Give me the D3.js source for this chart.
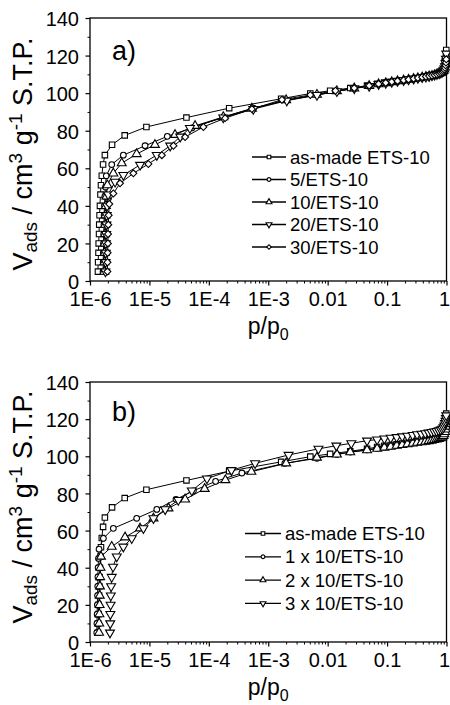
<!DOCTYPE html>
<html>
<head>
<meta charset="utf-8">
<script src="https://cdn.jsdelivr.net/npm/d3@7"></script>
<style>
  body { margin: 0; background: #fff; }
  svg { display: block; }
  text { font-family: "Liberation Sans", Arial, Helvetica, sans-serif; fill: #000; white-space: pre; }
</style>
</head>
<body>
<svg id="chart" width="450" height="705"></svg>
<script>
// ---- axis ticks ----
const xTickValues = [1e-6, 1e-5, 1e-4, 1e-3, 0.01, 0.1, 1];
const xTickLabels = ["1E-6", "1E-5", "1E-4", "1E-3", "0.01", "0.1", "1"];
const yTickValues = [0, 20, 40, 60, 80, 100, 120, 140];
const yMinorValues = [10, 30, 50, 70, 90, 110, 130];

// ---- N2 isotherms, [p/p0, Vads] ----
const asMade = [
  [1.36e-6, 5], [1.37e-6, 10], [1.39e-6, 15], [1.40e-6, 20], [1.42e-6, 25], [1.43e-6, 30],
  [1.45e-6, 35], [1.47e-6, 40], [1.50e-6, 46], [1.53e-6, 51], [1.58e-6, 56], [1.66e-6, 62],
  [1.78e-6, 67], [2.35e-6, 72.5], [3.84e-6, 77.5], [8.9e-6, 82], [4.2e-5, 87], [2.2e-4, 92],
  [1.65e-3, 97], [5.1e-3, 99.8], [0.011, 101.3], [0.024, 102.7], [0.046, 104], [0.068, 105],
  [0.09, 105.6], [0.115, 106.1], [0.145, 106.5], [0.18, 106.9], [0.22, 107.3], [0.27, 107.7],
  [0.32, 108.1], [0.38, 108.5], [0.44, 108.8], [0.5, 109.1], [0.56, 109.4], [0.62, 109.7],
  [0.68, 110], [0.74, 110.4], [0.8, 110.8], [0.85, 111.3], [0.89, 112], [0.92, 113],
  [0.945, 114.5], [0.965, 116.5], [0.98, 119], [0.99, 123]
];
const ets5 = [
  [1.66e-6, 5], [1.67e-6, 10], [1.68e-6, 15], [1.69e-6, 20], [1.70e-6, 25], [1.72e-6, 30],
  [1.73e-6, 35], [1.75e-6, 40], [1.78e-6, 45], [1.82e-6, 50], [1.88e-6, 56], [2.32e-6, 62],
  [3.64e-6, 67], [8.45e-6, 72], [2.0e-5, 77], [5.2e-5, 81.5], [1.77e-4, 87.3], [5.6e-4, 92],
  [2.05e-3, 96.2], [6.6e-3, 99], [0.0143, 101], [0.028, 102.5], [0.05, 103.8], [0.072, 104.7],
  [0.095, 105.3], [0.12, 105.8], [0.15, 106.3], [0.19, 106.7], [0.23, 107.1], [0.28, 107.5],
  [0.33, 107.9], [0.39, 108.3], [0.45, 108.6], [0.51, 108.9], [0.57, 109.2], [0.63, 109.5],
  [0.69, 109.9], [0.75, 110.3], [0.8, 110.7], [0.85, 111.2], [0.89, 111.8], [0.92, 112.6],
  [0.945, 113.8], [0.965, 115.5], [0.98, 117.5], [0.99, 120.5]
];
const ets10 = [
  [1.74e-6, 5], [1.75e-6, 10], [1.76e-6, 15], [1.77e-6, 20], [1.79e-6, 25], [1.80e-6, 30],
  [1.82e-6, 35], [1.85e-6, 40], [1.89e-6, 45], [1.96e-6, 51], [2.47e-6, 57.3], [3.42e-6, 62.7],
  [6.1e-6, 67.6], [1.24e-5, 72.5], [2.7e-5, 77.8], [5.87e-5, 82.6], [1.75e-4, 87.3], [5.3e-4, 91.8],
  [2.0e-3, 96.3], [6.6e-3, 99.2], [0.0143, 101.1], [0.028, 102.6], [0.05, 103.9], [0.072, 104.8],
  [0.095, 105.4], [0.12, 105.9], [0.15, 106.4], [0.19, 106.8], [0.23, 107.2], [0.28, 107.6],
  [0.33, 108], [0.39, 108.4], [0.45, 108.7], [0.51, 109], [0.57, 109.3], [0.63, 109.6],
  [0.69, 110], [0.75, 110.4], [0.8, 110.8], [0.85, 111.3], [0.89, 111.9], [0.92, 112.7],
  [0.945, 113.7], [0.965, 115.2], [0.98, 117], [0.99, 119.5]
];
const ets20 = [
  [1.82e-6, 5], [1.83e-6, 10], [1.84e-6, 15], [1.85e-6, 20], [1.87e-6, 25], [1.89e-6, 30],
  [1.91e-6, 35], [1.94e-6, 40], [2.02e-6, 46], [2.64e-6, 52.8], [3.64e-6, 56.4], [6.96e-6, 61.8],
  [1.33e-5, 67], [2.24e-5, 72], [3.3e-5, 76.8], [4.8e-5, 81.4], [1.75e-4, 87], [5.6e-4, 91.5],
  [2.05e-3, 96], [6.6e-3, 99], [0.0143, 101], [0.028, 102.5], [0.05, 103.8], [0.072, 104.8],
  [0.095, 105.4], [0.12, 105.9], [0.15, 106.4], [0.19, 106.8], [0.23, 107.2], [0.28, 107.6],
  [0.33, 108], [0.39, 108.4], [0.45, 108.7], [0.51, 109], [0.57, 109.4], [0.63, 109.7],
  [0.69, 110.1], [0.75, 110.5], [0.8, 110.9], [0.85, 111.4], [0.89, 112.1], [0.92, 113],
  [0.945, 114.3], [0.965, 116], [0.98, 118.3], [0.99, 121]
];
const ets30 = [
  [1.96e-6, 5], [1.97e-6, 10], [1.98e-6, 15], [2.0e-6, 20], [2.01e-6, 25], [2.03e-6, 30],
  [2.06e-6, 35], [2.11e-6, 41], [2.47e-6, 46.6], [3.2e-6, 52], [5.37e-6, 57.3], [9.6e-6, 62.3],
  [1.62e-5, 67], [2.54e-5, 72], [3.99e-5, 76.6], [8.09e-5, 82], [1.88e-4, 86.7], [5.3e-4, 91.5],
  [1.7e-3, 96.5], [5.1e-3, 99], [0.0135, 101.3], [0.028, 102.7], [0.05, 104], [0.072, 104.9],
  [0.095, 105.5], [0.12, 106], [0.15, 106.5], [0.19, 106.9], [0.23, 107.3], [0.28, 107.7],
  [0.33, 108.1], [0.39, 108.5], [0.45, 108.8], [0.51, 109.1], [0.57, 109.4], [0.63, 109.7],
  [0.69, 110], [0.75, 110.4], [0.8, 110.8], [0.85, 111.2], [0.89, 111.8], [0.92, 112.5],
  [0.945, 113.5], [0.965, 114.8], [0.98, 116.3], [0.99, 118]
];
const cycle1 = [
  [1.30e-6, 5], [1.31e-6, 10], [1.32e-6, 15], [1.33e-6, 20], [1.34e-6, 25], [1.35e-6, 30],
  [1.36e-6, 35], [1.37e-6, 40], [1.39e-6, 45], [1.42e-6, 50], [1.68e-6, 55.8], [2.47e-6, 61.2],
  [6.1e-6, 66.6], [1.33e-5, 71.4], [2.8e-5, 76.8], [5.5e-5, 81.4], [1.3e-4, 86.5], [3.6e-4, 91],
  [1.9e-3, 96.2], [6.6e-3, 98.9], [0.0143, 101], [0.024, 102.3], [0.046, 103.5], [0.068, 104.3],
  [0.09, 104.9], [0.115, 105.4], [0.145, 105.9], [0.18, 106.3], [0.22, 106.7], [0.27, 107.1],
  [0.32, 107.5], [0.38, 107.8], [0.44, 108.1], [0.5, 108.4], [0.56, 108.7], [0.62, 109],
  [0.68, 109.3], [0.74, 109.6], [0.8, 110], [0.85, 110.5], [0.89, 111.2], [0.92, 112.3],
  [0.945, 113.7], [0.965, 115.5], [0.98, 117.5], [0.99, 119.5]
];
const cycle2 = [
  [1.42e-6, 5], [1.43e-6, 10], [1.44e-6, 15], [1.45e-6, 20], [1.46e-6, 25], [1.47e-6, 30],
  [1.48e-6, 35], [1.50e-6, 40], [1.53e-6, 46], [2.32e-6, 51.3], [3.89e-6, 56.4], [6.96e-6, 61.2],
  [1.17e-5, 66.6], [2.09e-5, 72], [3.99e-5, 76.8], [8.5e-5, 82.5], [1.9e-4, 87.2], [5.2e-4, 91.7],
  [2.0e-3, 96.2], [6.6e-3, 99.3], [0.0143, 101], [0.024, 102.2], [0.046, 103.3], [0.068, 104.1],
  [0.09, 104.7], [0.115, 105.2], [0.145, 105.7], [0.18, 106.1], [0.22, 106.5], [0.27, 106.9],
  [0.32, 107.3], [0.38, 107.6], [0.44, 107.9], [0.5, 108.2], [0.56, 108.5], [0.62, 108.8],
  [0.68, 109.1], [0.74, 109.4], [0.8, 109.8], [0.85, 110.3], [0.89, 111], [0.92, 111.9],
  [0.945, 113.1], [0.965, 114.5], [0.98, 116], [0.99, 117.5]
];
const cycle3 = [
  [2.17e-6, 5], [2.19e-6, 10], [2.20e-6, 15], [2.22e-6, 20], [2.24e-6, 25], [2.27e-6, 30],
  [2.32e-6, 35], [2.44e-6, 40.5], [2.82e-6, 46], [3.64e-6, 51.3], [5.04e-6, 55.8], [7.92e-6, 61.2],
  [1.17e-5, 66.6], [1.84e-5, 71.4], [3.06e-5, 76.4], [5.17e-5, 81.5], [9.3e-5, 88], [2.4e-4, 92.5],
  [6.0e-4, 96.2], [2.2e-3, 100.7], [7.0e-3, 104], [0.014, 105.7], [0.025, 107], [0.046, 108.4],
  [0.068, 109], [0.09, 109.5], [0.115, 109.9], [0.145, 110.3], [0.18, 110.7], [0.22, 111],
  [0.27, 111.4], [0.32, 111.8], [0.38, 112.1], [0.44, 112.4], [0.5, 112.7], [0.56, 113],
  [0.62, 113.3], [0.68, 113.6], [0.74, 113.9], [0.8, 114.3], [0.85, 114.8], [0.89, 115.5],
  [0.92, 116.5], [0.945, 117.8], [0.965, 119], [0.98, 120.5], [0.99, 122]
];

const seriesA = [
  { name: "as-made ETS-10", marker: "square", data: asMade },
  { name: "5/ETS-10", marker: "circle", data: ets5 },
  { name: "10/ETS-10", marker: "up", data: ets10 },
  { name: "20/ETS-10", marker: "down", data: ets20 },
  { name: "30/ETS-10", marker: "diamond", data: ets30 }
];
const seriesB = [
  { name: "as-made ETS-10", marker: "square", data: asMade },
  { name: "1 x 10/ETS-10", marker: "circle", data: cycle1 },
  { name: "2 x 10/ETS-10", marker: "up", data: cycle2 },
  { name: "3 x 10/ETS-10", marker: "down", data: cycle3 }
];

const panels = [
  { label: "a)", series: seriesA, top: 18, bottom: 281, labelY: 60, titleY: 154,
    legendX: 252, legendTextX: 290, legendY: 157, legendStep: 22.5 },
  { label: "b)", series: seriesB, top: 382, bottom: 642, labelY: 421, titleY: 507,
    legendX: 245, legendTextX: 285, legendY: 533.5, legendStep: 23.3 }
];

const svg = d3.select("#chart");
const left = 90, right = 446.5;

// minor log ticks 2..9 within each decade
const xMinor = [];
for (let e = -6; e < 0; e++) for (let k = 2; k <= 9; k++) xMinor.push(k * Math.pow(10, e));

function markerPath(kind, size) {
  switch (kind) {
    case "square": return d3.symbol(d3.symbolSquare, size)();
    case "circle": return d3.symbol(d3.symbolCircle, size * 0.85)();
    case "up": return d3.symbol(d3.symbolTriangle, size * 1.15)();
    case "down": return d3.symbol(d3.symbolTriangle, size * 1.15)();
    case "diamond": return d3.symbol(d3.symbolSquare, size * 0.8)();
  }
}
function markerRotation(kind) {
  if (kind === "down") return 180;
  if (kind === "diamond") return 45;
  return 0;
}

panels.forEach(p => {
  const x = d3.scaleLog().domain([1e-6, 1]).range([left, right]);
  const y = d3.scaleLinear().domain([0, 140]).range([p.bottom, p.top]);
  const g = svg.append("g");

  // x axis: minor then major ticks
  g.append("g").attr("transform", `translate(0,${p.bottom})`)
    .call(d3.axisBottom(x).tickValues(xMinor).tickSize(2.5).tickFormat(""))
    .call(a => a.select(".domain").remove())
    .call(a => a.selectAll("line").attr("stroke", "#000").attr("stroke-width", 1));
  g.append("g").attr("transform", `translate(0,${p.bottom})`)
    .call(d3.axisBottom(x).tickValues(xTickValues).tickSize(4.5).tickPadding(6)
      .tickFormat((d, i) => xTickLabels[i]))
    .call(a => a.select(".domain").remove())
    .call(a => a.selectAll("line").attr("stroke", "#000").attr("stroke-width", 1.2))
    .call(a => a.selectAll("text").attr("font-family", null).style("font-size", "20px").attr("fill", "#000"))
    .call(a => a.selectAll("text").filter(d => d === 1).attr("dx", "-2.5"));

  // y axis
  g.append("g").attr("transform", `translate(${left},0)`)
    .call(d3.axisLeft(y).tickValues(yMinorValues).tickSize(2.5).tickFormat(""))
    .call(a => a.select(".domain").remove())
    .call(a => a.selectAll("line").attr("stroke", "#000").attr("stroke-width", 1));
  g.append("g").attr("transform", `translate(${left},0)`)
    .call(d3.axisLeft(y).tickValues(yTickValues).tickSize(4.5).tickPadding(6.5))
    .call(a => a.select(".domain").remove())
    .call(a => a.selectAll("line").attr("stroke", "#000").attr("stroke-width", 1.2))
    .call(a => a.selectAll("text").attr("font-family", null).attr("dy", "0.38em")
      .style("font-size", "20px").attr("fill", "#000"));

  // frame
  g.append("rect").attr("x", left).attr("y", p.top)
    .attr("width", right - left).attr("height", p.bottom - p.top)
    .attr("fill", "none").attr("stroke", "#000").attr("stroke-width", 1.3);

  // isotherm lines and markers
  const line = d3.line().x(d => x(d[0])).y(d => y(d[1]));
  p.series.forEach(s => {
    g.append("path").datum(s.data).attr("d", line)
      .attr("fill", "none").attr("stroke", "#000").attr("stroke-width", 1);
  });
  p.series.forEach(s => {
    g.append("g").selectAll("path").data(s.data).join("path")
      .attr("d", markerPath(s.marker, 30))
      .attr("transform", d => `translate(${x(d[0])},${y(d[1])}) rotate(${markerRotation(s.marker)})`)
      .attr("fill", "#fff").attr("stroke", "#000").attr("stroke-width", 1.1);
  });

  // legend
  p.series.forEach((s, i) => {
    const ly = p.legendY + i * p.legendStep;
    const lg = g.append("g");
    lg.append("line").attr("x1", p.legendX).attr("x2", p.legendTextX - 4)
      .attr("y1", ly).attr("y2", ly).attr("stroke", "#000").attr("stroke-width", 1.3);
    const mx = (p.legendX + p.legendTextX - 4) / 2;
    lg.append("path").attr("d", markerPath(s.marker, 13))
      .attr("transform", `translate(${mx},${ly}) rotate(${markerRotation(s.marker)})`)
      .attr("fill", "#fff").attr("stroke", "#000").attr("stroke-width", 1.1);
    lg.append("text").attr("x", p.legendTextX).attr("y", ly).attr("dy", "0.36em")
      .style("font-size", "18.5px").text(s.name);
  });

  // panel label
  g.append("text").attr("x", 112).attr("y", p.labelY).style("font-size", "27px").text(p.label);

  // y title
  const t = g.append("text")
    .attr("transform", `translate(32,${p.titleY}) rotate(-90)`)
    .attr("text-anchor", "middle").style("font-size", "27px");
  t.append("tspan").text("V");
  t.append("tspan").attr("dy", 5).style("font-size", "19px").text("ads");
  t.append("tspan").attr("dy", -5).text(" / cm");
  t.append("tspan").attr("dy", -10).style("font-size", "19px").text("3");
  t.append("tspan").attr("dy", 10).text(" g");
  t.append("tspan").attr("dy", -10).style("font-size", "19px").text("-1");
  t.append("tspan").attr("dy", 10).text(" S.T.P.");

  // x title
  const xt = g.append("text").attr("x", (left + right) / 2).attr("y", p.bottom + 53)
    .attr("text-anchor", "middle").style("font-size", "23px");
  xt.append("tspan").text("p/p");
  xt.append("tspan").attr("dy", 6).style("font-size", "16px").text("0");
});
</script>
</body>
</html>
